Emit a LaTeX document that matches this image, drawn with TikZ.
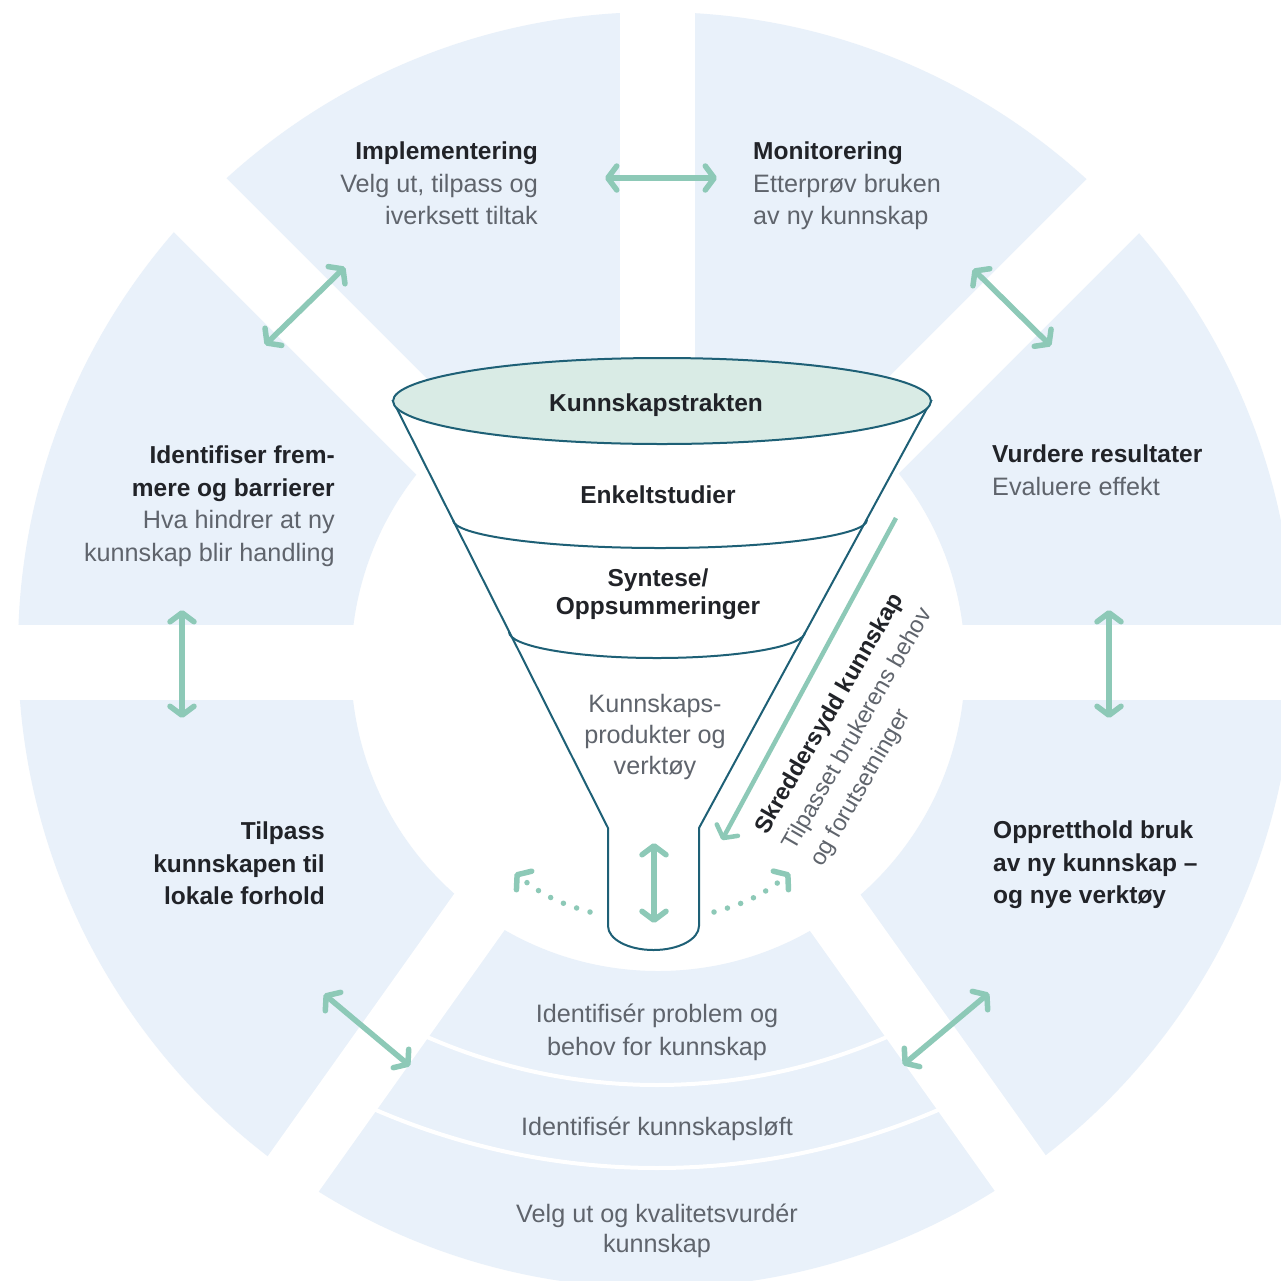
\documentclass[tikz,border=0pt]{standalone}
\usepackage{fontspec}
\setmainfont{Liberation Sans}
\usetikzlibrary{arrows.meta}

\definecolor{sektor}{RGB}{233,241,250}
\definecolor{pil}{RGB}{141,201,183}
\definecolor{trakt}{RGB}{30,96,118}
\definecolor{topp}{RGB}{217,235,229}
\definecolor{tekst}{RGB}{33,35,40}
\definecolor{graa}{RGB}{95,100,108}

\newcommand{\hode}[1]{\textcolor{tekst}{\fontsize{24.5}{32.5}\selectfont\bfseries #1}}

\tikzset{
	pilspiss/.tip={Straight Barb[round,length=9pt,width=24pt]},
	dobbelpil/.style={draw=pil, line width=5.5pt, pilspiss-pilspiss},
	enkelpil/.style={draw=pil, line width=4.5pt, -pilspiss},
	prikkpil/.style={draw=pil, line width=5.5pt, line cap=round, dash pattern=on 0pt off 14pt, -pilspiss},
	lett/.style={font=\fontsize{25.2}{32.5}\selectfont, text=graa, inner sep=0pt},
	fet/.style={lett, font=\fontsize{24.5}{32.5}\selectfont\bfseries, text=tekst},
	traktlinje/.style={draw=trakt, line width=2pt},
}

\begin{document}
\begin{tikzpicture}[x=1pt, y=-1pt]
	% Ramme og klipp
	\useasboundingbox (0,0) rectangle (1281,1280);
	\clip (0,0) rectangle (1281,1280);
	\fill[white] (0,0) rectangle (1281,1280);

	% Ringen
	\fill[sektor, even odd rule] (656,650) circle[radius=638] (658,664) circle[radius=307];

	% Hvite linjer i nederste felt
	\begin{scope}
		\clip (657,662) -- +(54.6:900) -- +(125.4:900) -- cycle;
		\draw[white, line width=4pt] (657,511) ++(120:574) arc[start angle=120, end angle=60, radius=574];
		\draw[white, line width=4pt] (657,458) ++(120:710) arc[start angle=120, end angle=60, radius=710];
	\end{scope}

	% Mellomrom mellom feltene
	\foreach \v in {-135,-90,-45,0,180}
		\draw[white, line width=75pt] (657,662) -- ++(\v:720);
	\foreach \v in {54.6,125.4}
		\draw[white, line width=62pt] (657,662) -- ++(\v:720);

	% Trakten
	\filldraw[fill=white, traktlinje] (393,401) -- (608,828) -- (608,926)
		arc[start angle=180, end angle=0, x radius=45.5, y radius=24] -- (699,828) -- (931,401) -- cycle;
	\filldraw[fill=topp, traktlinje] (662,401) ellipse[x radius=269, y radius=43];
	\draw[traktlinje] (453,520) arc[start angle=180, end angle=0, x radius=207, y radius=28];
	\draw[traktlinje] (509,632) arc[start angle=180, end angle=0, x radius=148, y radius=26];

	% Tekst i trakten
	\node[fet, anchor=base] (traktnavn) at (656,411) {Kunnskapstrakten};
	\node[fet, anchor=base] (enkelt) at (658,503) {Enkeltstudier};
	\node[fet, font=\fontsize{24.5}{28}\selectfont\bfseries, align=center, anchor=north] (syntese) at (658,569) {Syntese/\\Oppsummeringer};
	\node[lett, font=\fontsize{25.2}{31}\selectfont, align=center, anchor=north] (produkt) at (655,694) {Kunnskaps-\\produkter og\\verktøy};

	% Tekst i feltene
	\node[lett, align=right, anchor=north east] (impl) at (538,142) {\hode{Implementering}\\Velg ut, tilpass og\\iverksett tiltak};
	\node[lett, align=left, anchor=north west] (moni) at (753,142) {\hode{Monitorering}\\Etterprøv bruken\\av ny kunnskap};
	\node[lett, align=right, anchor=north east] (ident) at (335,446) {\hode{Identifiser frem-}\\\hode{mere og barrierer}\\Hva hindrer at ny\\kunnskap blir handling};
	\node[lett, align=left, anchor=north west] (vurd) at (992,445) {\hode{Vurdere resultater}\\Evaluere effekt};
	\node[lett, align=right, anchor=north east] (tilp) at (325,822) {\hode{Tilpass}\\\hode{kunnskapen til}\\\hode{lokale forhold}};
	\node[lett, align=left, anchor=north west] (oppr) at (993,821) {\hode{Oppretthold bruk}\\\hode{av ny kunnskap –}\\\hode{og nye verktøy}};

	% Nederste felt
	\node[lett, align=center, anchor=north] (problem) at (657,1004) {Identifisér problem og\\behov for kunnskap};
	\node[lett, anchor=base] (loeft) at (657,1135) {Identifisér kunnskapsløft};
	\node[lett, align=center, anchor=north, font=\fontsize{25.2}{30}\selectfont] (velg) at (657,1204) {Velg ut og kvalitetsvurdér\\kunnskap};

	% Skrå tekst
	\node[lett, rotate=60, anchor=north west, align=left, font=\fontsize{23.5}{32}\selectfont] (skreddersydd) at (752,827)
		{\textcolor{tekst}{\bfseries Skreddersydd kunnskap}\\Tilpasset brukerens behov\\og forutsetninger};

	% Doble piler
	\foreach \n/\ax/\ay/\bx/\by in {
		midt/605/178/717/178,
		vo/265/345/345/267,
		ho/973/269/1051/346,
		vm/182/610/182/718,
		hm/1109/610/1109/718,
		vn/324/994/410/1066,
		hn/903/1065/989/993,
		hals/654/843/654/923}
	{
		\coordinate (\n-a) at (\ax,\ay);
		\coordinate (\n-b) at (\bx,\by);
		\draw[dobbelpil] (\n-a) -- (\n-b);
	}

	% Pil langs trakten
	\coordinate (skred-a) at (896,518);
	\coordinate (skred-b) at (722,840);
	\draw[enkelpil] (skred-a) -- (skred-b);

	% Prikkede piler
	\coordinate (prikk-v-a) at (590,912);
	\coordinate (prikk-v-b) at (515,873);
	\coordinate (prikk-h-a) at (714,912);
	\coordinate (prikk-h-b) at (790,873);
	\draw[prikkpil] (prikk-v-a) to[bend left=12] (prikk-v-b);
	\draw[prikkpil] (prikk-h-a) to[bend right=12] (prikk-h-b);
\end{tikzpicture}
\end{document}
